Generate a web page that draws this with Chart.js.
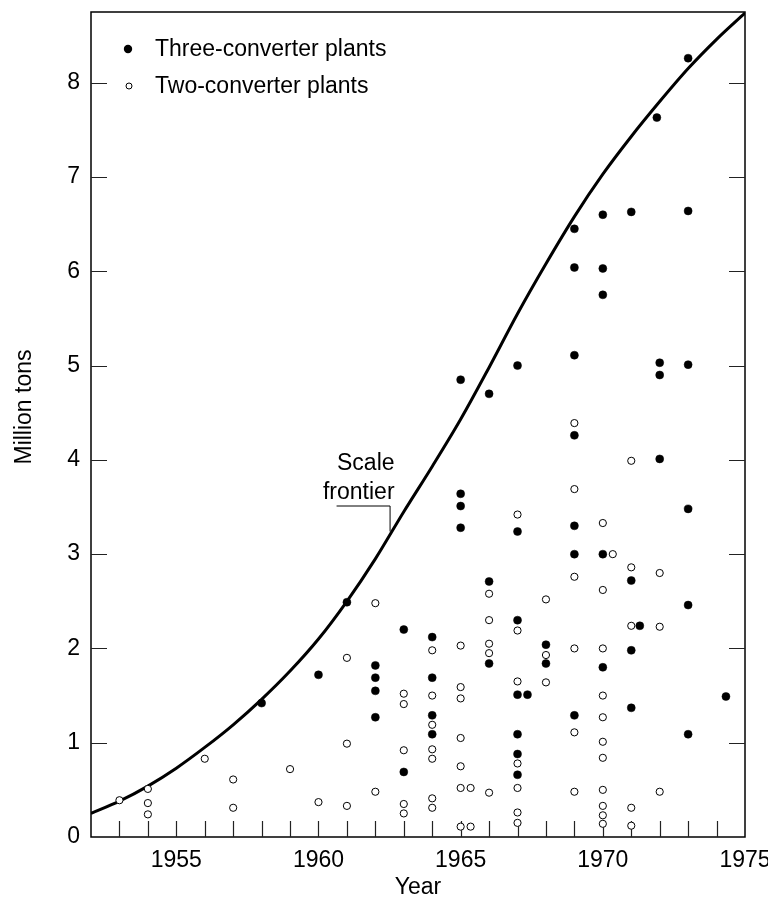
<!DOCTYPE html>
<html>
<head>
<meta charset="utf-8">
<script src="https://cdn.jsdelivr.net/npm/chart.js@4/dist/chart.umd.min.js"></script>
<style>
  html, body { margin: 0; padding: 0; background: #fff; overflow: hidden; }
  #wrap { position: relative; width: 768px; height: 910px; }
</style>
</head>
<body>
<div id="wrap"><canvas id="c" width="768" height="910"></canvas></div>
<script>
// Scale frontier: largest plant size by year (million tons)
const frontierYears  = [1952, 1953, 1954, 1955, 1956, 1957, 1958, 1959, 1960, 1961, 1962, 1963,
                        1964, 1965, 1966, 1967, 1968, 1969, 1970, 1971, 1972, 1973, 1974, 1975];
const frontierValues = [0.25, 0.38, 0.54, 0.73, 0.95, 1.19, 1.46, 1.76, 2.10, 2.50, 2.95, 3.45,
                        3.93, 4.43, 4.98, 5.55, 6.08, 6.58, 7.03, 7.43, 7.80, 8.15, 8.46, 8.74];

// Three-converter plants
const threeConverterYears = [
  1958, 1960, 1961,
  1962, 1962, 1962, 1962,
  1963, 1963,
  1964, 1964, 1964, 1964,
  1965, 1965, 1965, 1965,
  1966, 1966, 1966,
  1967, 1967, 1967, 1967, 1967, 1967, 1967, 1967.35,
  1968, 1968,
  1969, 1969, 1969, 1969, 1969, 1969, 1969,
  1970, 1970, 1970, 1970, 1970,
  1971, 1971, 1971, 1971, 1971.3,
  1971.9, 1972, 1972, 1972,
  1973, 1973, 1973, 1973, 1973, 1973,
  1974.33
];
const threeConverterValues = [
  1.42, 1.72, 2.49,
  1.82, 1.69, 1.55, 1.27,
  2.20, 0.69,
  2.12, 1.69, 1.29, 1.09,
  4.85, 3.64, 3.51, 3.28,
  4.70, 2.71, 1.84,
  5.00, 3.24, 2.30, 1.51, 1.09, 0.88, 0.66, 1.51,
  2.04, 1.84,
  6.45, 6.04, 5.11, 4.26, 3.30, 3.00, 1.29,
  6.60, 6.03, 5.75, 3.00, 1.80,
  6.63, 2.72, 1.98, 1.37, 2.24,
  7.63, 5.03, 4.90, 4.01,
  8.26, 6.64, 5.01, 3.48, 2.46, 1.09,
  1.49
];

// Two-converter plants
const twoConverterYears = [
  1953,
  1954, 1954, 1954,
  1956,
  1957, 1957,
  1959,
  1960,
  1961, 1961, 1961,
  1962, 1962,
  1963, 1963, 1963, 1963, 1963,
  1964, 1964, 1964, 1964, 1964, 1964, 1964,
  1965, 1965, 1965, 1965, 1965, 1965, 1965, 1965.35, 1965.35,
  1966, 1966, 1966, 1966, 1966,
  1967, 1967, 1967, 1967, 1967, 1967, 1967,
  1968, 1968, 1968,
  1969, 1969, 1969, 1969, 1969, 1969,
  1970, 1970, 1970, 1970, 1970, 1970, 1970, 1970, 1970, 1970, 1970, 1970.35,
  1971, 1971, 1971, 1971, 1971,
  1972, 1972, 1972
];
const twoConverterValues = [
  0.39,
  0.51, 0.36, 0.24,
  0.83,
  0.61, 0.31,
  0.72,
  0.37,
  1.90, 0.99, 0.33,
  2.48, 0.48,
  1.52, 1.41, 0.92, 0.35, 0.25,
  1.98, 1.50, 1.19, 0.93, 0.83, 0.41, 0.31,
  2.03, 1.59, 1.47, 1.05, 0.75, 0.52, 0.11, 0.52, 0.11,
  2.58, 2.30, 2.05, 1.95, 0.47,
  3.42, 2.19, 1.65, 0.78, 0.52, 0.26, 0.15,
  2.52, 1.93, 1.64,
  4.39, 3.69, 2.76, 2.00, 1.11, 0.48,
  3.33, 2.62, 2.00, 1.50, 1.27, 1.01, 0.84, 0.50, 0.33, 0.23, 0.14, 3.00,
  3.99, 2.86, 2.24, 0.31, 0.12,
  2.80, 2.23, 0.48
];

// Axis labelling
const yearTickLabels = [1955, 1960, 1965, 1970, 1975];
const valueTickLabels = [0, 1, 2, 3, 4, 5, 6, 7, 8];
const seriesNames = ['Three-converter plants', 'Two-converter plants'];
const curveNote = ['Scale', 'frontier'];

const FONT = '"Liberation Sans", Arial, Helvetica, sans-serif';
const FS = 23;

const zip = (xs, ys) => xs.map((x, i) => ({ x: x, y: ys[i] }));

const decorations = {
  id: 'decorations',
  beforeDatasetsDraw(chart) {
    const { ctx, chartArea: a, scales: { x, y } } = chart;
    ctx.save();
    // frame
    ctx.strokeStyle = '#000';
    ctx.lineWidth = 1.5;
    ctx.strokeRect(a.left, a.top, a.right - a.left, a.bottom - a.top);
    // inward tick marks
    ctx.lineWidth = 1.2;
    ctx.strokeStyle = '#222';
    ctx.beginPath();
    x.ticks.forEach(t => {
      if (t.value > x.min && t.value < x.max) {
        const px = Math.round(x.getPixelForValue(t.value)) + 0.5;
        ctx.moveTo(px, a.bottom);
        ctx.lineTo(px, a.bottom - 16);
      }
    });
    valueTickLabels.forEach(v => {
      if (v <= 0) return;
      const py = Math.round(y.getPixelForValue(v)) + 0.5;
      ctx.moveTo(a.left, py); ctx.lineTo(a.left + 16, py);
      ctx.moveTo(a.right, py); ctx.lineTo(a.right - 16, py);
    });
    ctx.stroke();
    ctx.restore();
  },
  afterDraw(chart) {
    const { ctx, chartArea: a, scales: { x, y } } = chart;
    ctx.save();
    ctx.fillStyle = '#000';
    ctx.font = FS + 'px ' + FONT;

    // axis titles
    ctx.textAlign = 'center';
    ctx.textBaseline = 'middle';
    ctx.fillText('Year', (a.left + a.right) / 2, 888);
    ctx.save();
    ctx.translate(25, 407);
    ctx.rotate(-Math.PI / 2);
    ctx.fillText('Million tons', 0, 0);
    ctx.restore();

    // legend
    const lx = a.left + 37, ty = a.top + 37, gap = 37;
    ctx.beginPath();
    ctx.arc(lx, ty, 4.2, 0, Math.PI * 2);
    ctx.fill();
    ctx.beginPath();
    ctx.lineWidth = 1;
    ctx.strokeStyle = '#000';
    ctx.arc(lx + 1, ty + gap, 3, 0, Math.PI * 2);
    ctx.stroke();
    ctx.textAlign = 'left';
    ctx.fillText(seriesNames[0], lx + 27, ty + 1);
    ctx.fillText(seriesNames[1], lx + 27, ty + gap + 1);

    // annotation of the frontier curve
    const ax = x.getPixelForValue(1962.5);
    const ay = y.getPixelForValue(3.24);
    const cornerY = ay - 26;
    ctx.beginPath();
    ctx.lineWidth = 1;
    ctx.moveTo(ax + 0.5, ay);
    ctx.lineTo(ax + 0.5, cornerY + 0.5);
    ctx.lineTo(ax - 53, cornerY + 0.5);
    ctx.stroke();
    ctx.textAlign = 'right';
    ctx.fillText(curveNote[0], ax + 5, cornerY - 42);
    ctx.fillText(curveNote[1], ax + 5, cornerY - 13);
    ctx.restore();
  }
};

new Chart(document.getElementById('c'), {
  type: 'scatter',
  data: {
    datasets: [
      {
        type: 'line',
        label: 'Scale frontier',
        data: zip(frontierYears, frontierValues),
        borderColor: '#000',
        borderWidth: 3,
        pointRadius: 0,
        cubicInterpolationMode: 'monotone',
        fill: false,
        order: 3
      },
      {
        label: seriesNames[0],
        data: zip(threeConverterYears, threeConverterValues),
        backgroundColor: '#000',
        borderColor: '#000',
        borderWidth: 0.5,
        pointRadius: 4,
        order: 1
      },
      {
        label: seriesNames[1],
        data: zip(twoConverterYears, twoConverterValues),
        backgroundColor: '#fff',
        borderColor: '#000',
        borderWidth: 1,
        pointRadius: 3.6,
        order: 2
      }
    ]
  },
  options: {
    responsive: false,
    devicePixelRatio: 1,
    animation: false,
    layout: { padding: { top: 12, right: 23, left: 0, bottom: 0 } },
    plugins: { legend: { display: false }, tooltip: { enabled: false } },
    scales: {
      x: {
        type: 'linear',
        min: 1952,
        max: 1975,
        border: { display: false },
        grid: { display: false, drawTicks: false },
        ticks: {
          stepSize: 1,
          autoSkip: false,
          maxRotation: 0,
          padding: 10,
          color: '#000',
          font: { family: FONT, size: FS },
          callback: v => yearTickLabels.includes(v) ? String(v) : ''
        },
        afterFit: s => { s.height = 73; s.paddingLeft = 0; s.paddingRight = 0; }
      },
      y: {
        min: 0,
        max: 8.75,
        border: { display: false },
        grid: { display: false, drawTicks: false },
        ticks: {
          stepSize: 1,
          padding: 11,
          color: '#000',
          font: { family: FONT, size: FS },
          callback: v => valueTickLabels.includes(v) ? String(v) : ''
        },
        afterFit: s => { s.width = 91; s.paddingTop = 0; s.paddingBottom = 0; }
      }
    }
  },
  plugins: [decorations]
});
</script>
</body>
</html>
